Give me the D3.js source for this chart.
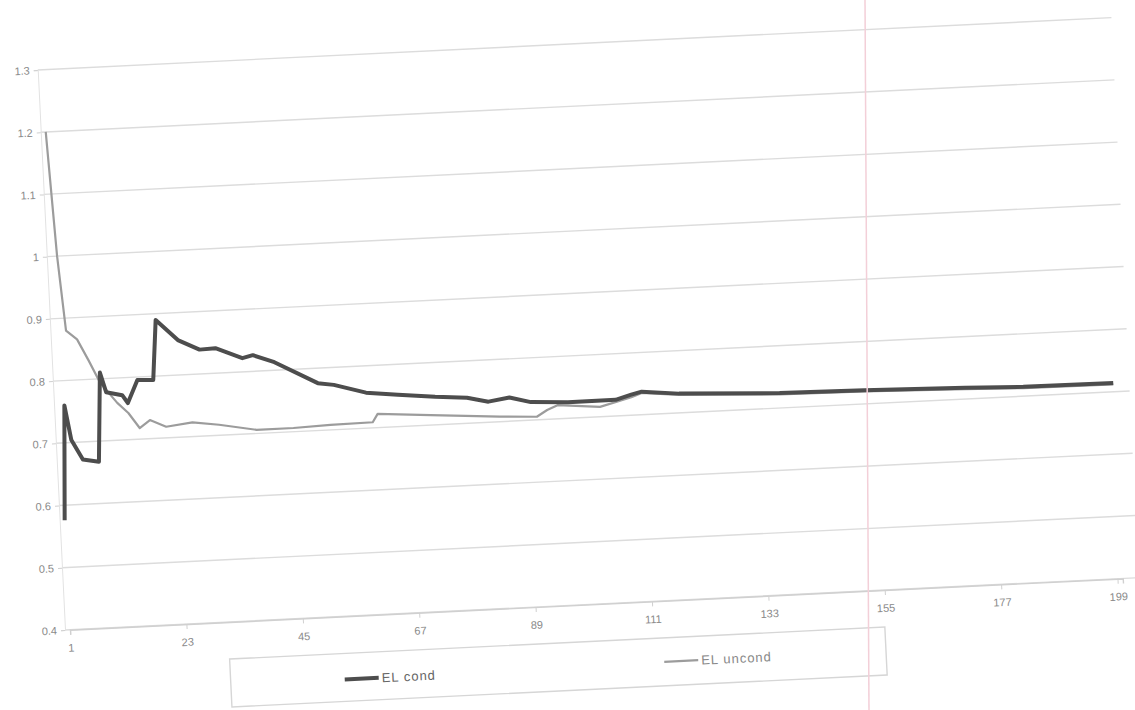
<!DOCTYPE html>
<html>
<head>
<meta charset="utf-8">
<script src="https://cdn.jsdelivr.net/npm/d3@7"></script>
<style>
  body { margin: 0; background: #fff; }
  text { font-family: Arial, "Liberation Sans", sans-serif; }
</style>
</head>
<body>
<div id="chart"></div>
<script>
// tick labels
var xTicks = [1, 23, 45, 67, 89, 111, 133, 155, 177, 199];
var yTicks = [0.4, 0.5, 0.6, 0.7, 0.8, 0.9, 1, 1.1, 1.2, 1.3];
var seriesNames = ["EL cond", "EL uncond"];

// EL cond (thick line)
var condIdx = [1, 2, 3, 5, 8, 9, 10, 13, 14, 16, 19, 20, 24, 28, 31, 36, 38, 42, 50, 53,
               59, 65, 72, 78, 82, 86, 90, 97, 106, 109, 111, 118, 137, 153, 172, 183, 200];
var condVal = [0.576, 0.760, 0.704, 0.672, 0.667, 0.810, 0.778, 0.772, 0.759, 0.795, 0.794, 0.890,
               0.856, 0.839, 0.840, 0.822, 0.826, 0.813, 0.776, 0.772, 0.757, 0.751, 0.745, 0.741,
               0.733, 0.738, 0.729, 0.726, 0.726, 0.733, 0.737, 0.731, 0.724, 0.722, 0.718, 0.715, 0.714];

// EL uncond (thin line)
var uncondIdx = [1, 2, 3, 5, 7, 9, 12, 14, 16, 18, 21, 26, 31, 38, 45, 52, 60, 61, 71, 84,
                 91, 93, 95, 103, 109, 111, 118, 137, 153, 172, 183, 200];
var uncondVal = [1.200, 1.000, 0.880, 0.865, 0.830, 0.793, 0.760, 0.743, 0.718, 0.730, 0.718,
                 0.723, 0.717, 0.706, 0.706, 0.708, 0.709, 0.722, 0.716, 0.708, 0.705, 0.715,
                 0.722, 0.716, 0.729, 0.735, 0.729, 0.722, 0.720, 0.716, 0.713, 0.712];

var W = 1135, H = 710;
var width = 1075, height = 560.7;

var svg = d3.select("#chart")
    .append("svg")
    .attr("width", W)
    .attr("height", H);

// the printed page was photographed slightly tilted
var g = svg.append("g")
    .attr("transform", "translate(65,630) rotate(-2.79) translate(0," + (-height) + ")");

var x = d3.scaleLinear().domain([1, 200]).range([5, 1059]);
var y = d3.scaleLinear().domain([0.4, 1.3]).range([height, 0]);

// gridlines
g.append("g")
    .selectAll("line")
    .data(yTicks)
    .enter().append("line")
    .attr("x1", 0)
    .attr("x2", width)
    .attr("y1", function(d) { return y(d); })
    .attr("y2", function(d) { return y(d); })
    .attr("stroke", "#dcdcdc")
    .attr("stroke-width", 1.4);

// y axis
var yAxis = g.append("g")
    .call(d3.axisLeft(y).tickValues(yTicks).tickSize(4).tickPadding(4)
        .tickFormat(function(d) { return d3.format("~g")(d); }));
yAxis.select(".domain").attr("stroke", "#e2e2e2");
yAxis.selectAll(".tick line").attr("stroke", "#cfcfcf");
yAxis.selectAll("text").attr("fill", "#8a8a8a").style("font-size", "11px");

// x axis
var xAxis = g.append("g")
    .attr("transform", "translate(0," + height + ")")
    .call(d3.axisBottom(x).tickValues(xTicks).tickSize(5).tickPadding(9));
xAxis.select(".domain").attr("stroke", "#d0d0d0").attr("stroke-width", 1.4);
xAxis.selectAll(".tick line").attr("stroke", "#d0d0d0");
xAxis.selectAll("text").attr("fill", "#8a8a8a").style("font-size", "11px");

var line = d3.line()
    .x(function(d) { return x(d[0]); })
    .y(function(d) { return y(d[1]); });

var uncond = d3.zip(uncondIdx, uncondVal);
var cond = d3.zip(condIdx, condVal);

g.append("path")
    .datum(uncond)
    .attr("d", line)
    .attr("fill", "none")
    .attr("stroke", "#9c9c9c")
    .attr("stroke-width", 2.2)
    .attr("stroke-linejoin", "round");

g.append("path")
    .datum(cond)
    .attr("d", line)
    .attr("fill", "none")
    .attr("stroke", "#4d4d4d")
    .attr("stroke-width", 4)
    .attr("stroke-linejoin", "round");

// legend
var legend = g.append("g")
    .attr("transform", "translate(163," + (height + 37) + ")");

legend.append("rect")
    .attr("width", 656)
    .attr("height", 48)
    .attr("fill", "none")
    .attr("stroke", "#d6d6d6")
    .attr("stroke-width", 1.4);

var items = [
    {name: seriesNames[0], x: 114, y: 26, w: 4, c: "#4d4d4d", tc: "#666"},
    {name: seriesNames[1], x: 434, y: 24, w: 2.2, c: "#9c9c9c", tc: "#888"}
];

var it = legend.selectAll(".item")
    .data(items)
    .enter().append("g")
    .attr("class", "item")
    .attr("transform", function(d) { return "translate(" + d.x + "," + d.y + ")"; });

it.append("line")
    .attr("x1", 0)
    .attr("x2", 34)
    .attr("stroke", function(d) { return d.c; })
    .attr("stroke-width", function(d) { return d.w; });

it.append("text")
    .attr("x", 37)
    .attr("dy", "0.35em")
    .attr("fill", function(d) { return d.tc; })
    .style("font-size", "13px")
    .style("letter-spacing", "1px")
    .text(function(d) { return d.name; });

// pink margin line on the paper
svg.append("line")
    .attr("x1", 865).attr("y1", 0)
    .attr("x2", 869).attr("y2", H)
    .attr("stroke", "#f3cfd8")
    .attr("stroke-width", 1.5);
</script>
</body>
</html>
